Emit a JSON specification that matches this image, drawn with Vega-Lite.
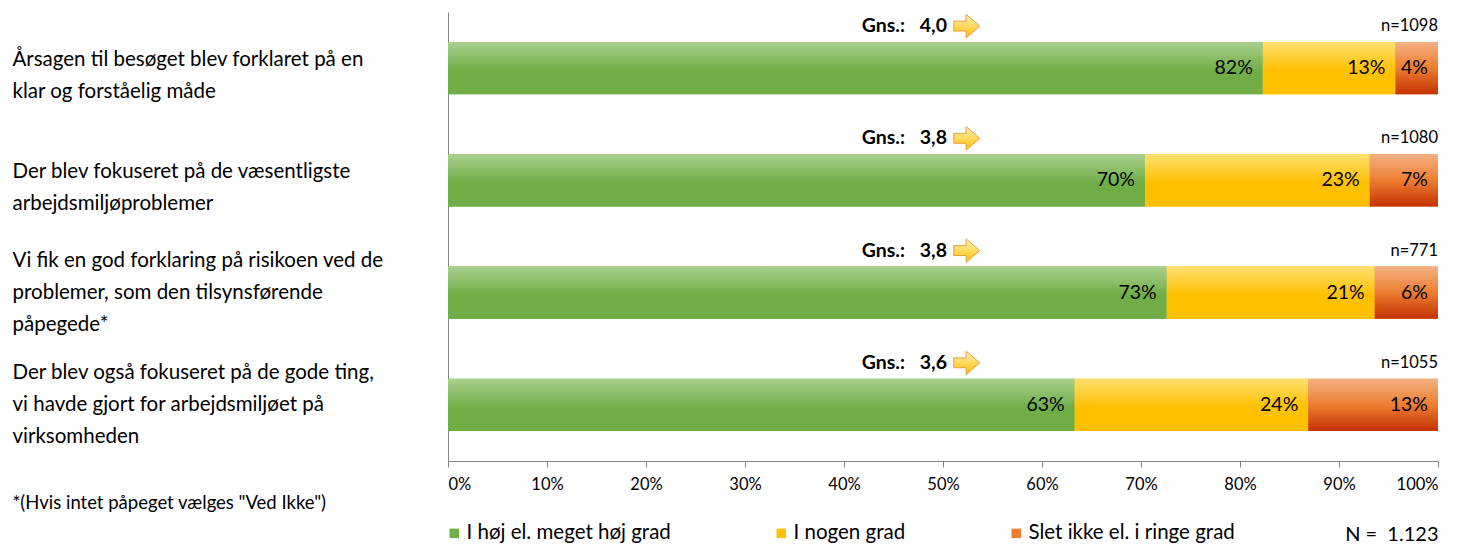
{
  "$schema": "https://vega.github.io/schema/vega-lite/v6.json",
  "width": 990,
  "height": 449,
  "autosize": {"type": "none"},
  "padding": {"left": 448, "top": 12, "right": 23, "bottom": 84},
  "background": "white",
  "config": {"font": "Lato", "view": {"stroke": null}},
  "datasets": {
    "resp": [
      {"q": "Årsagen til besøget blev forklaret på en|klar og forståelig måde", "cat": "I høj el. meget høj grad", "k": 1, "pct": 0.823},
      {"q": "Årsagen til besøget blev forklaret på en|klar og forståelig måde", "cat": "I nogen grad", "k": 2, "pct": 0.134},
      {"q": "Årsagen til besøget blev forklaret på en|klar og forståelig måde", "cat": "Slet ikke el. i ringe grad", "k": 3, "pct": 0.043},
      {"q": "Der blev fokuseret på de væsentligste|arbejdsmiljøproblemer", "cat": "I høj el. meget høj grad", "k": 1, "pct": 0.704},
      {"q": "Der blev fokuseret på de væsentligste|arbejdsmiljøproblemer", "cat": "I nogen grad", "k": 2, "pct": 0.227},
      {"q": "Der blev fokuseret på de væsentligste|arbejdsmiljøproblemer", "cat": "Slet ikke el. i ringe grad", "k": 3, "pct": 0.069},
      {"q": "Vi fik en god forklaring på risikoen ved de|problemer, som den tilsynsførende|påpegede*", "cat": "I høj el. meget høj grad", "k": 1, "pct": 0.726},
      {"q": "Vi fik en god forklaring på risikoen ved de|problemer, som den tilsynsførende|påpegede*", "cat": "I nogen grad", "k": 2, "pct": 0.21},
      {"q": "Vi fik en god forklaring på risikoen ved de|problemer, som den tilsynsførende|påpegede*", "cat": "Slet ikke el. i ringe grad", "k": 3, "pct": 0.064},
      {"q": "Der blev også fokuseret på de gode ting,|vi havde gjort for arbejdsmiljøet på|virksomheden", "cat": "I høj el. meget høj grad", "k": 1, "pct": 0.633},
      {"q": "Der blev også fokuseret på de gode ting,|vi havde gjort for arbejdsmiljøet på|virksomheden", "cat": "I nogen grad", "k": 2, "pct": 0.236},
      {"q": "Der blev også fokuseret på de gode ting,|vi havde gjort for arbejdsmiljøet på|virksomheden", "cat": "Slet ikke el. i ringe grad", "k": 3, "pct": 0.131}
    ],
    "info": [
      {"q": "Årsagen til besøget blev forklaret på en|klar og forståelig måde", "gns": "4,0", "n": "n=1098"},
      {"q": "Der blev fokuseret på de væsentligste|arbejdsmiljøproblemer", "gns": "3,8", "n": "n=1080"},
      {"q": "Vi fik en god forklaring på risikoen ved de|problemer, som den tilsynsførende|påpegede*", "gns": "3,8", "n": "n=771"},
      {"q": "Der blev også fokuseret på de gode ting,|vi havde gjort for arbejdsmiljøet på|virksomheden", "gns": "3,6", "n": "n=1055"}
    ]
  },
  "encoding": {
    "y": {
      "field": "q",
      "type": "nominal",
      "sort": [
        "Årsagen til besøget blev forklaret på en|klar og forståelig måde",
        "Der blev fokuseret på de væsentligste|arbejdsmiljøproblemer",
        "Vi fik en god forklaring på risikoen ved de|problemer, som den tilsynsførende|påpegede*",
        "Der blev også fokuseret på de gode ting,|vi havde gjort for arbejdsmiljøet på|virksomheden"
      ],
      "scale": {"paddingInner": 0.536, "paddingOuter": 0.268},
      "axis": {
        "domain": true,
        "domainColor": "#868686",
        "ticks": false,
        "tickSize": 0,
        "labelPadding": 436,
        "labelAlign": "left",
        "labelBaseline": "middle",
        "labelOffset": {"condition": {"test": "length(split(datum.label, '|')) == 3", "value": -32}, "value": -8},
        "labelExpr": "split(datum.label, '|')",
        "labelFontSize": 20.5,
        "labelLineHeight": 32,
        "labelLimit": 430,
        "labelColor": "#000000",
        "title": "*(Hvis intet påpeget vælges \"Ved Ikke\")",
        "titleAngle": 0,
        "titleX": -436,
        "titleY": 490,
        "titleAlign": "left",
        "titleBaseline": "middle",
        "titleFontWeight": "normal",
        "titleFontSize": 18.5,
        "titleColor": "#000000"
      }
    }
  },
  "layer": [
    {
      "data": {"name": "resp"},
      "mark": {"type": "bar"},
      "encoding": {
        "x": {
          "field": "pct",
          "type": "quantitative",
          "stack": "zero",
          "scale": {"domain": [0, 1], "nice": false},
          "axis": {
            "format": ".0%",
            "values": [0, 0.1, 0.2, 0.3, 0.4, 0.5, 0.6, 0.7, 0.8, 0.9, 1],
            "grid": false,
            "domainColor": "#868686",
            "tickColor": "#868686",
            "tickSize": 6,
            "labelFontSize": 16.5,
            "labelColor": "#000000",
            "labelPadding": 9,
            "title": "N =\u00a0 1.123",
            "titleX": 990,
            "titleY": 73,
            "titleAlign": "right",
            "titleBaseline": "middle",
            "titleFontWeight": "normal",
            "titleFontSize": 20,
            "titleColor": "#000000"
          }
        },
        "color": {
          "field": "cat",
          "type": "nominal",
          "scale": {
            "domain": ["I høj el. meget høj grad", "I nogen grad", "Slet ikke el. i ringe grad"],
            "range": ["#70ad47", "#ffc000", "#ed7d31"]
          },
          "legend": {
            "orient": "none",
            "legendX": -4,
            "legendY": 511,
            "direction": "horizontal",
            "columns": 3,
            "title": null,
            "symbolType": "square",
            "symbolSize": 90,
            "symbolStrokeWidth": 0,
            "labelFontSize": 20.5,
            "labelColor": "#000000",
            "labelOffset": 2,
            "columnPadding": 100,
            "labelLimit": 400
          }
        },
        "order": {"field": "k", "type": "quantitative"}
      }
    },
    {
      "data": {"name": "resp"},
      "mark": {"type": "bar"},
      "encoding": {
        "x": {"field": "pct", "type": "quantitative", "stack": "zero"},
        "detail": {"field": "cat", "type": "nominal"},
        "order": {"field": "k", "type": "quantitative"},
        "fill": {
          "condition": [
            {"test": "datum.k == 1", "value": {"gradient": "linear", "x1": 0, "y1": 0, "x2": 0, "y2": 1, "stops": [{"offset": 0, "color": "#a9d18e"}, {"offset": 0.55, "color": "#70ad47"}, {"offset": 1, "color": "#70ad47"}]}},
            {"test": "datum.k == 2", "value": {"gradient": "linear", "x1": 0, "y1": 0, "x2": 0, "y2": 1, "stops": [{"offset": 0, "color": "#ffdf70"}, {"offset": 0.55, "color": "#ffc000"}, {"offset": 1, "color": "#ffc000"}]}}
          ],
          "value": {"gradient": "linear", "x1": 0, "y1": 0, "x2": 0, "y2": 1, "stops": [{"offset": 0, "color": "#f4b183"}, {"offset": 0.5, "color": "#ed7d31"}, {"offset": 1, "color": "#c43200"}]}
        }
      }
    },
    {
      "data": {"name": "resp"},
      "mark": {"type": "text", "align": "right", "baseline": "middle", "dx": -10, "fontSize": 19.5, "color": "#000000"},
      "encoding": {
        "x": {"field": "pct", "type": "quantitative", "stack": "zero"},
        "detail": {"field": "cat", "type": "nominal"},
        "order": {"field": "k", "type": "quantitative"},
        "text": {"field": "pct", "type": "quantitative", "format": ".0%"}
      }
    },
    {
      "data": {"name": "info"},
      "mark": {"type": "text", "align": "right", "baseline": "middle", "dy": -42, "fontSize": 19.5, "fontWeight": "bold", "color": "#000000"},
      "encoding": {
        "x": {"datum": 0.4616, "type": "quantitative"},
        "text": {"value": "Gns.:"}
      }
    },
    {
      "data": {"name": "info"},
      "mark": {"type": "text", "align": "right", "baseline": "middle", "dy": -42, "fontSize": 19.5, "fontWeight": "bold", "color": "#000000"},
      "encoding": {
        "x": {"datum": 0.504, "type": "quantitative"},
        "text": {"field": "gns", "type": "nominal"}
      }
    },
    {
      "data": {"name": "info"},
      "mark": {
        "type": "point",
        "shape": "M-1,-0.38 L-0.05,-0.38 L-0.05,-0.9 L1,0 L-0.05,0.9 L-0.05,0.38 L-1,0.38 Z",
        "size": 676,
        "filled": true,
        "opacity": 1,
        "fill": {"gradient": "linear", "x1": 0, "y1": 0, "x2": 0, "y2": 1, "stops": [{"offset": 0, "color": "#fff2c0"}, {"offset": 1, "color": "#ffc000"}]},
        "stroke": "#ed9b33",
        "strokeWidth": 1
      },
      "encoding": {
        "x": {"datum": 0.524, "type": "quantitative"},
        "yOffset": {"value": -16}
      }
    },
    {
      "data": {"name": "info"},
      "mark": {"type": "text", "align": "right", "baseline": "middle", "dy": -42, "fontSize": 16.5, "color": "#000000"},
      "encoding": {
        "x": {"datum": 1, "type": "quantitative"},
        "text": {"field": "n", "type": "nominal"}
      }
    }
  ]
}
